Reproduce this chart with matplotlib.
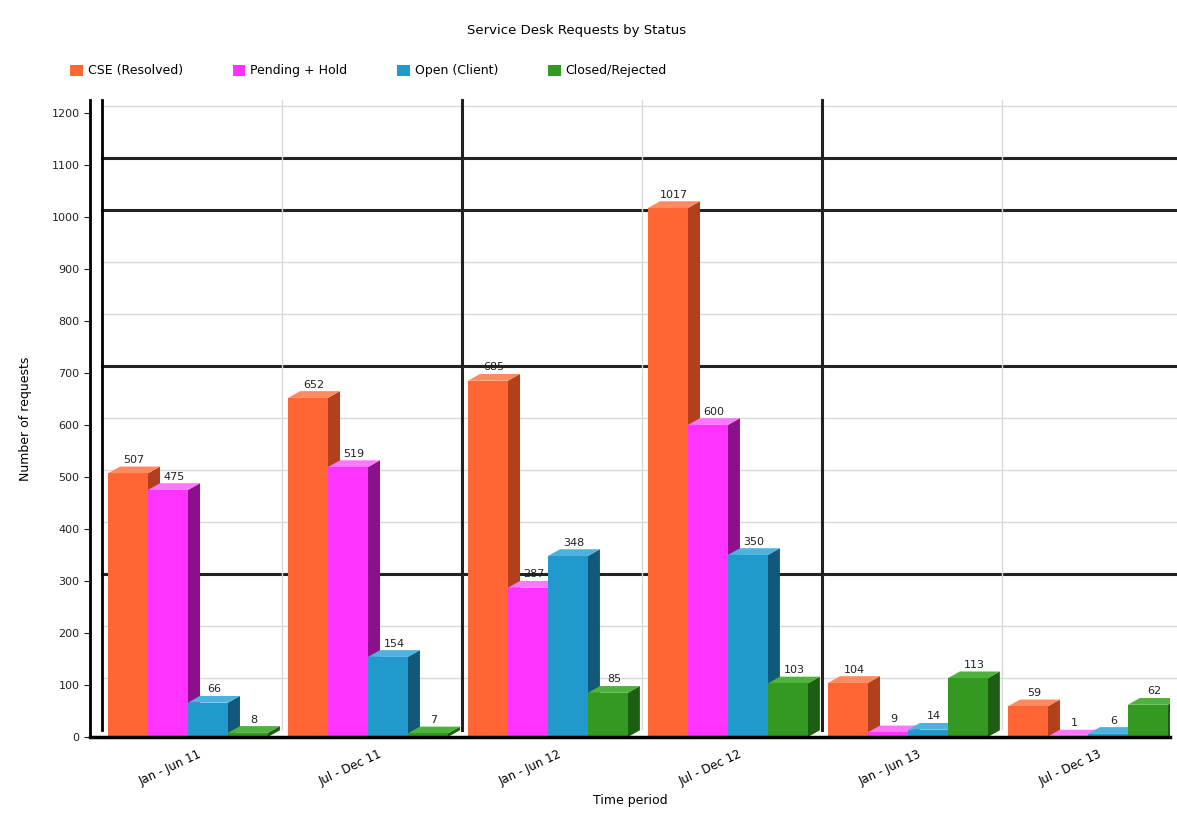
import numpy as np
import matplotlib
matplotlib.use("Agg")
import matplotlib.pyplot as plt
from matplotlib.patches import Polygon, Patch

# values
periods = ["Jan - Jun 11", "Jul - Dec 11", "Jan - Jun 12", "Jul - Dec 12", "Jan - Jun 13", "Jul - Dec 13"]
series_names = ["CSE (Resolved)", "Pending + Hold", "Open (Client)", "Closed/Rejected"]
resolved = [507, 652, 685, 1017, 104, 59]
pending = [475, 519, 287, 600, 9, 1]
open_client = [66, 154, 348, 350, 14, 6]
closed = [8, 7, 85, 103, 113, 62]

front_colors = ["#ff6633", "#ff33ff", "#2299cc", "#339922"]
side_colors = ["#b3401c", "#8c108c", "#11587a", "#1c5e12"]
top_colors = ["#ff8a60", "#ff77ff", "#4bb3dd", "#4fb23c"]

fig = plt.figure(figsize=(11.77, 8.19), dpi=100)
ax = fig.add_axes([0.0765, 0.1001, 0.9175, 0.778])

x = np.arange(len(periods))
w = 0.222
dx = 0.067   # depth shift in category units
dy = 13      # depth shift in value units
ymax = 1225

ax.set_xlim(-0.5, 5.5)
ax.set_ylim(0, ymax)

# back wall grid
for v in range(100, 1300, 100):
    dark = v in (300, 700, 1000, 1100)
    ax.plot([-0.5 + dx, 5.5 + dx + 0.1], [v + dy, v + dy],
            color="#222222" if dark else "#d9d9d9", lw=2.2 if dark else 1.0,
            zorder=1, clip_on=False)
for k in range(1, 6):
    dark = k in (2, 4)
    ax.plot([k - 0.5 + dx, k - 0.5 + dx], [dy, ymax],
            color="#222222" if dark else "#d9d9d9", lw=2.2 if dark else 1.0,
            zorder=1, clip_on=False)
ax.plot([-0.5 + dx, -0.5 + dx], [dy, ymax], color="black", lw=2, zorder=1, clip_on=False)

all_series = [resolved, pending, open_client, closed]
for s, vals in enumerate(all_series):
    lefts = x - 0.5 + 0.1 + s * w
    z = 3 + s
    for xl, h in zip(lefts, vals):
        side = Polygon([(xl + w, 0), (xl + w + dx, dy), (xl + w + dx, h + dy), (xl + w, h)],
                       closed=True, facecolor=side_colors[s], edgecolor="none", zorder=z)
        top = Polygon([(xl, h), (xl + dx, h + dy), (xl + w + dx, h + dy), (xl + w, h)],
                      closed=True, facecolor=top_colors[s], edgecolor="none", zorder=z)
        ax.add_patch(side)
        ax.add_patch(top)
        ax.text(xl + w / 2 + dx / 2, h + dy + 3, str(h), ha="center", va="bottom",
                fontsize=8, color="#222222", zorder=10)
    ax.bar(lefts, vals, width=w, align="edge", color=front_colors[s], zorder=z, linewidth=0)

for sp in ["top", "right"]:
    ax.spines[sp].set_visible(False)
ax.spines["left"].set_linewidth(2)
ax.spines["bottom"].set_linewidth(2.5)
ax.spines["bottom"].set_zorder(12)

ax.set_yticks(range(0, 1300, 100))
ax.tick_params(axis="y", labelsize=8, length=4, colors="#222222")
ax.set_xticks(x + 0.1)
ax.set_xticklabels(periods, rotation=25, ha="right", rotation_mode="anchor", fontsize=8.5)
ax.tick_params(axis="x", length=0, pad=8)

ax.set_ylabel("Number of requests", fontsize=9, labelpad=14)
ax.set_xlabel("Time period", fontsize=9, labelpad=4)

handles = [Patch(facecolor=c, edgecolor="none") for c in front_colors]
fig.legend(handles, series_names, loc="upper left", bbox_to_anchor=(0.05, 0.935), ncol=4,
           frameon=False, fontsize=9, handlelength=1.0, handleheight=1.0, columnspacing=4.0,
           handletextpad=0.4)
fig.text(0.49, 0.963, "Service Desk Requests by Status", ha="center", va="center", fontsize=9.5)

plt.savefig("out.png", dpi=100)
plt.close()
